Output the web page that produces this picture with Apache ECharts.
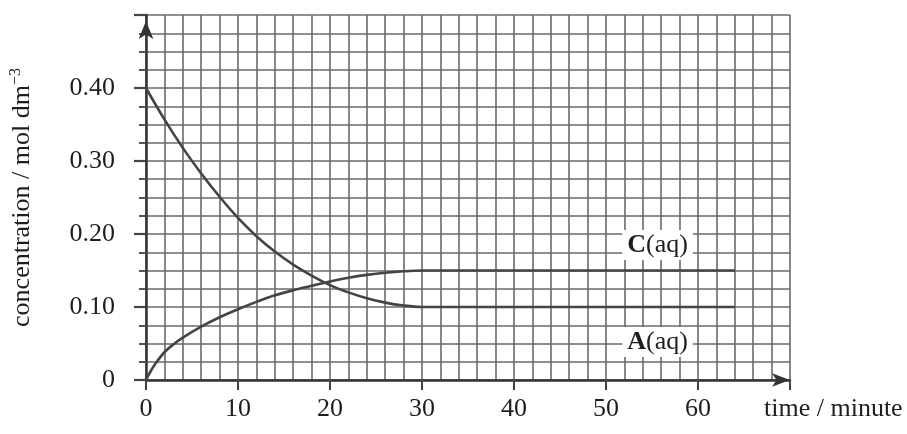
<!DOCTYPE html>
<html>
<head>
<meta charset="utf-8">
<script src="https://cdn.jsdelivr.net/npm/echarts@6/dist/echarts.min.js"></script>
<style>html,body{margin:0;padding:0;background:#fff;}#c{width:907px;height:434px;}</style>
</head>
<body>
<div id="c"></div>
<script>
// time (minutes)
const timeA = [0, 2, 4, 6, 8, 10, 12, 14, 16, 18, 20, 22, 24, 26, 28, 30, 64];
const concA = [0.40, 0.357, 0.318, 0.283, 0.251, 0.222, 0.197, 0.176, 0.158, 0.143, 0.130, 0.120, 0.112, 0.106, 0.102, 0.100, 0.100];
const timeC = [0, 0.5, 1, 2, 3, 4, 6, 8, 10, 12, 14, 16, 18, 20, 22, 24, 26, 28, 30, 64];
const concC = [0, 0.012, 0.022, 0.038, 0.049, 0.058, 0.073, 0.086, 0.097, 0.107, 0.116, 0.123, 0.129, 0.135, 0.140, 0.144, 0.147, 0.149, 0.150, 0.150];
const xTickLabels = [0, 10, 20, 30, 40, 50, 60];
const yTickLabels = ['0', '0.10', '0.20', '0.30', '0.40'];
const labelNames = ['C', 'A'];
const labelPos = [[55.6, 0.185], [55.6, 0.052]];

const serif = '"Liberation Serif", "Times New Roman", serif';
const lineCol = '#444';
const gridCol = '#6a6a6a';
const txt = '#1e1e1e';

const chart = echarts.init(document.getElementById('c'), null, {renderer: 'canvas'});
chart.setOption({
  backgroundColor: '#fff',
  animation: false,
  grid: {left: 146, right: 117, top: 15, bottom: 54},
  xAxis: {
    type: 'value', min: 0, max: 70, interval: 10,
    axisLine: {show: true, onZero: false, symbol: ['none', 'arrow'], symbolSize: [10, 18], symbolOffset: [0, 0],
      lineStyle: {color: '#333', width: 2.5}},
    axisTick: {show: true, length: 10, lineStyle: {color: '#444', width: 2}},
    minorTick: {show: false, splitNumber: 5},
    splitLine: {show: true, lineStyle: {color: gridCol, width: 1.6}},
    minorSplitLine: {show: true, lineStyle: {color: gridCol, width: 1.6}},
    axisLabel: {
      margin: 16, fontFamily: serif, fontSize: 26, color: txt,
      formatter: v => xTickLabels.indexOf(v) >= 0 ? String(v) : ''
    }
  },
  yAxis: {
    type: 'value', min: 0, max: 0.5, interval: 0.1,
    name: 'concentration / mol dm{sup|−3}',
    nameLocation: 'middle', nameRotate: 90, nameGap: 110,
    nameTextStyle: {fontFamily: serif, fontSize: 26, color: txt,
      rich: {sup: {fontFamily: serif, fontSize: 16, color: txt, verticalAlign: 'top', lineHeight: 28, padding: [0, 0, 12, 0]}}},
    axisLine: {show: true, onZero: false, symbol: ['none', 'arrow'], symbolSize: [11, 18], symbolOffset: [0, -6],
      lineStyle: {color: '#333', width: 2.5}},
    axisTick: {show: true, length: 12, lineStyle: {color: '#444', width: 2.2}},
    minorTick: {show: true, splitNumber: 4, length: 7, lineStyle: {color: '#555', width: 2}},
    splitLine: {show: true, lineStyle: {color: gridCol, width: 1.6}},
    minorSplitLine: {show: true, lineStyle: {color: gridCol, width: 1.6}},
    axisLabel: {
      margin: 31, fontFamily: serif, fontSize: 26, color: txt,
      formatter: v => { const i = Math.round(v * 10); return i < yTickLabels.length ? yTickLabels[i] : ''; }
    }
  },
  series: [
    {
      type: 'line', name: 'A', smooth: 0.35, symbol: 'none',
      lineStyle: {color: lineCol, width: 2.6},
      data: timeA.map((t, i) => [t, concA[i]]), z: 5
    },
    {
      type: 'line', name: 'C', smooth: 0.35, symbol: 'none',
      lineStyle: {color: lineCol, width: 2.6},
      data: timeC.map((t, i) => [t, concC[i]]), z: 5
    },
    {
      type: 'scatter', symbolSize: 0, z: 6,
      itemStyle: {color: 'transparent', opacity: 1},
      data: labelNames.map((n, i) => ({value: labelPos[i], name: n})),
      label: {
        show: true, position: 'inside',
        backgroundColor: '#fff', padding: [2, 5],
        textBorderWidth: 0, textBorderColor: 'transparent',
        formatter: p => '{b|' + p.name + '}(aq)',
        fontFamily: serif, fontSize: 26, color: txt,
        rich: {b: {fontFamily: serif, fontSize: 26, fontWeight: 'bold', color: txt, textBorderWidth: 0}}
      }
    }
  ],
  graphic: [{
    type: 'text', left: 764, top: 396,
    style: {text: 'time / minute', font: '26px ' + serif, fill: txt}
  }]
});
</script>
</body>
</html>
